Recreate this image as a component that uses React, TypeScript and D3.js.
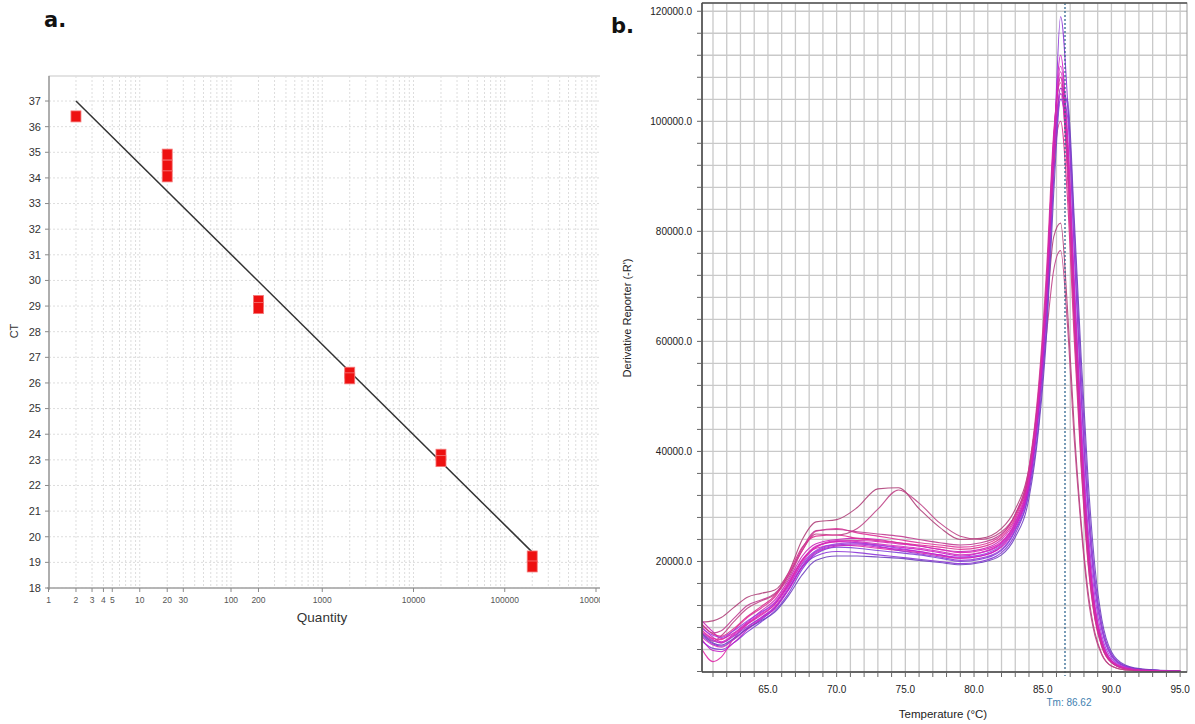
import * as d3 from 'd3';

// ---- panel a: standard curve ----
const quantities = [2, 20, 20, 20, 200, 200, 2000, 2000, 20000, 20000, 200000, 200000];
const ctValues = [36.4, 34.91, 34.48, 34.06, 29.2, 28.92, 26.4, 26.18, 23.2, 22.95, 19.23, 18.84];
const fitRange = [2, 200000];
const fitSlope = -3.52;
const fitIntercept = 38.06;
const quantityTicks = [1, 2, 3, 4, 5, 10, 20, 30, 100, 200, 1000, 10000, 100000, 1000000];
const ctTicks = d3.range(18, 38);

// ---- panel b: melt curves (values in thousands) ----
const temps = [60.2, 61, 61.6, 62.5, 63.5, 64.5, 65.5, 66.5, 67.5, 68.5, 70, 71.5, 73, 74.5, 76, 77.5, 79, 80.5, 82, 83, 84, 84.7, 85.3, 85.8, 86.3, 86.8, 87.3, 87.8, 88.3, 88.8, 89.3, 90, 91, 92.5, 95];
const meltCurves = [
  [6.5, 5.0, 4.6, 5.8, 7.8, 9.4, 11.5, 15.0, 19.0, 21.0, 21.8, 21.6, 21.2, 20.8, 20.4, 20.0, 19.6, 20.0, 21.6, 25.0, 33.0, 47.0, 67.0, 93.0, 119.0, 104.0, 76.0, 50.0, 29.0, 15.0, 7.5, 2.8, 0.9, 0.3, 0.1],
  [8.0, 6.2, 5.4, 6.8, 8.8, 10.6, 12.6, 16.2, 20.4, 22.6, 23.6, 23.4, 23.0, 22.6, 22.2, 21.6, 21.0, 21.6, 23.4, 27.0, 35.0, 49.0, 70.0, 96.0, 112.0, 97.0, 68.0, 43.0, 23.5, 11.5, 5.6, 2.0, 0.6, 0.2, 0.1],
  [9.0, 9.2, 9.8, 11.6, 13.5, 14.2, 14.8, 18.0, 24.0, 27.2, 27.6, 29.8, 33.2, 33.4, 29.6, 26.2, 24.0, 24.2, 26.0, 29.5, 37.0, 50.0, 66.0, 79.0, 81.5, 66.0, 44.0, 27.0, 14.5, 7.0, 3.2, 1.0, 0.3, 0.1, 0.1],
  [7.0, 5.5, 6.5, 9.0, 11.5, 12.8, 14.0, 17.0, 22.0, 25.0, 24.8, 26.0, 29.5, 33.0, 30.6, 27.0, 24.6, 24.0, 25.4, 28.5, 35.5, 48.0, 62.0, 73.0, 76.5, 63.0, 42.0, 26.0, 13.5, 6.5, 3.0, 1.0, 0.3, 0.1, 0.1],
  [7.5, 6.0, 5.8, 7.5, 9.8, 11.5, 13.5, 17.5, 22.0, 25.5, 26.0, 25.2, 24.6, 24.0, 23.4, 23.0, 22.6, 23.0, 24.8, 28.5, 37.0, 52.0, 74.0, 98.0, 107.0, 90.0, 62.0, 38.0, 20.0, 9.5, 4.5, 1.6, 0.5, 0.2, 0.1],
  [5.5, 4.2, 4.0, 5.2, 7.2, 9.0, 11.0, 14.2, 18.6, 21.4, 22.6, 22.4, 22.0, 21.6, 21.2, 20.6, 20.0, 20.4, 22.0, 25.6, 32.5, 45.0, 64.0, 90.0, 106.0, 103.0, 80.0, 54.0, 32.0, 17.0, 8.5, 3.2, 1.0, 0.3, 0.1],
  [9.2, 7.2, 6.0, 7.0, 9.0, 11.0, 13.0, 16.6, 21.0, 23.2, 24.0, 24.2, 24.0, 23.4, 22.8, 22.2, 21.8, 22.2, 24.0, 27.6, 35.5, 50.0, 71.0, 97.0, 109.0, 95.0, 66.0, 41.0, 22.0, 10.5, 5.0, 1.8, 0.6, 0.2, 0.1],
  [4.0, 1.8, 2.6, 6.0, 8.6, 10.4, 12.2, 16.0, 20.2, 22.4, 23.0, 22.8, 22.4, 22.0, 21.6, 21.0, 20.6, 21.0, 22.8, 26.4, 34.0, 48.0, 69.0, 94.0, 105.0, 92.0, 64.0, 40.0, 21.5, 10.5, 5.0, 1.8, 0.6, 0.2, 0.1],
  [7.8, 6.6, 6.2, 7.4, 9.2, 10.8, 12.4, 15.6, 19.6, 22.0, 23.2, 23.4, 23.0, 22.4, 21.8, 21.2, 20.8, 21.2, 23.0, 26.6, 34.5, 48.5, 68.0, 92.0, 104.0, 96.0, 71.0, 46.0, 26.0, 13.5, 6.5, 2.4, 0.8, 0.3, 0.1],
  [6.2, 4.8, 4.4, 5.8, 8.0, 9.8, 11.8, 15.4, 19.8, 22.6, 23.8, 23.6, 23.2, 22.8, 22.4, 21.8, 21.2, 21.6, 23.2, 26.8, 34.5, 49.0, 70.0, 96.0, 110.0, 98.0, 70.0, 44.5, 24.5, 12.0, 5.8, 2.0, 0.7, 0.2, 0.1],
  [7.0, 5.6, 5.2, 6.4, 8.2, 9.8, 11.6, 15.0, 19.2, 21.8, 23.0, 23.2, 22.8, 22.0, 21.4, 20.8, 20.2, 20.6, 22.2, 25.8, 33.5, 47.0, 66.0, 91.0, 105.0, 101.0, 77.0, 51.0, 30.0, 16.0, 8.0, 3.0, 1.0, 0.3, 0.1],
  [8.6, 6.8, 6.4, 7.8, 10.0, 11.8, 13.8, 17.8, 22.6, 24.6, 24.8, 24.2, 23.8, 23.4, 23.0, 22.6, 22.2, 22.6, 24.4, 28.0, 36.0, 50.0, 70.0, 92.0, 100.0, 86.0, 60.0, 37.0, 19.5, 9.5, 4.5, 1.6, 0.5, 0.2, 0.1],
  [5.8, 3.8, 3.6, 5.2, 7.6, 9.6, 11.4, 14.8, 19.0, 21.6, 22.8, 23.0, 22.6, 22.2, 21.8, 21.2, 20.6, 21.0, 22.6, 26.2, 34.0, 48.0, 68.0, 94.0, 106.0, 94.0, 67.0, 42.0, 23.0, 11.0, 5.2, 1.9, 0.6, 0.2, 0.1],
  [8.4, 7.0, 7.4, 9.6, 12.0, 13.0, 14.2, 17.4, 22.4, 25.6, 25.8, 25.4, 25.0, 24.6, 24.0, 23.4, 23.0, 23.4, 25.0, 28.6, 36.5, 51.0, 72.0, 96.0, 108.0, 93.0, 64.0, 39.0, 21.0, 10.0, 4.8, 1.7, 0.5, 0.2, 0.1],
  [6.8, 5.2, 4.8, 6.0, 7.8, 9.2, 10.8, 13.8, 17.6, 20.2, 21.0, 21.0, 20.8, 20.6, 20.2, 19.8, 19.4, 19.8, 21.2, 24.4, 31.5, 44.0, 62.0, 87.0, 104.0, 104.0, 82.0, 57.0, 35.0, 19.0, 9.5, 3.6, 1.2, 0.4, 0.1],
  [7.2, 5.8, 5.2, 6.6, 8.6, 10.2, 12.2, 15.8, 20.2, 22.8, 23.6, 23.8, 23.6, 23.2, 22.8, 22.2, 21.6, 22.0, 23.6, 27.2, 35.0, 49.5, 70.5, 96.5, 108.0, 96.0, 68.0, 42.5, 23.0, 11.0, 5.3, 1.9, 0.6, 0.2, 0.1],
];
const curveColors = ['#8c34d8', '#d21cc8', '#b0407a', '#c04588', '#e0309a', '#7f3fd8', '#cc22b8', '#e02aa8', '#a040e0', '#d030c0', '#9a3ad6', '#dc2c90', '#c81cc8', '#c03c90', '#7040c0', '#d825b5'];
const tmValue = 86.62;
const tempTicks = [65, 70, 75, 80, 85, 90, 95];
const reporterTicks = [20000, 40000, 60000, 80000, 100000, 120000];

const font = 'Liberation Sans, Arial, sans-serif';

function PanelA() {
  const x = d3.scaleLog().domain([1, 1e6]).range([48.5, 596]);
  const y = d3.scaleLinear().domain([18, 38]).range([588, 75.4]);
  const minor: number[] = [];
  for (let d = 0; d < 6; d++) for (let m = 1; m < 10; m++) minor.push(m * Math.pow(10, d));
  minor.push(1e6);
  const fitLine = d3.line<number>().x(q => x(q)).y(q => y(fitIntercept + fitSlope * Math.log10(q)));
  return (
    <g clipPath="url(#clipA)">
      <rect x={49} y={76} width={560} height={512} fill="#fff" stroke="#c8c8c8" />
      {ctTicks.map(t => (
        <line key={'h' + t} x1={49} x2={610} y1={y(t)} y2={y(t)} stroke="#dddddd" strokeDasharray="2,2" />
      ))}
      {minor.filter(v => v > 1).map(v => (
        <line key={'v' + v} x1={x(v)} x2={x(v)} y1={76} y2={588} stroke="#dddddd" strokeDasharray="2,2" />
      ))}
      <line x1={49} x2={49} y1={76} y2={590} stroke="#8a8a8a" strokeWidth={1.2} />
      <line x1={47} x2={610} y1={588} y2={588} stroke="#8a8a8a" strokeWidth={1.2} />
      {ctTicks.map(t => (
        <g key={'yt' + t}>
          <line x1={45} x2={49} y1={y(t)} y2={y(t)} stroke="#8a8a8a" />
          <text x={41} y={y(t)} dy="0.35em" textAnchor="end" fontSize={11} fill="#333" fontFamily={font}>{t}</text>
        </g>
      ))}
      {quantityTicks.map(t => (
        <g key={'xt' + t}>
          <line x1={x(t)} x2={x(t)} y1={588} y2={592} stroke="#8a8a8a" />
          <text x={x(t)} y={600} dy="0.35em" textAnchor="middle" fontSize={8.5} fill="#555" fontFamily={font}>{t}</text>
        </g>
      ))}
      <path d={fitLine(fitRange) || ''} stroke="#333" strokeWidth={1.5} fill="none" />
      {quantities.map((q, i) => (
        <rect key={'p' + i} x={x(q) - 5} y={y(ctValues[i]) - 5.5} width={10} height={11} fill="#ee1010" stroke="#f47a7a" strokeWidth={0.8} />
      ))}
      <text x={322} y={617} dy="0.35em" textAnchor="middle" fontSize={13.5} fill="#333" fontFamily={font}>Quantity</text>
      <text transform="translate(14,331) rotate(-90)" textAnchor="middle" dy="0.35em" fontSize={11} fill="#333" fontFamily={font}>CT</text>
    </g>
  );
}

function PanelB() {
  const x = d3.scaleLinear().domain([60.2, 95.5]).range([702, 1187]);
  const y = d3.scaleLinear().domain([0, 121500]).range([671.5, 3]);
  const vGrid = d3.range(61, 96);
  const hGrid = d3.range(4000, 121000, 4000);
  const line = d3.line<number>().x((_, i) => x(temps[i])).y(v => y(v * 1000)).curve(d3.curveMonotoneX);
  return (
    <g>
      <defs>
        <clipPath id="clipB"><rect x={702} y={3} width={485} height={669} /></clipPath>
      </defs>
      {vGrid.map(t => (
        <line key={'vg' + t} x1={x(t)} x2={x(t)} y1={3} y2={672} stroke="#c9c9c9" strokeWidth={1.3} />
      ))}
      {hGrid.map(v => (
        <line key={'hg' + v} x1={702} x2={1187} y1={y(v)} y2={y(v)} stroke="#c9c9c9" strokeWidth={1.3} />
      ))}
      <g clipPath="url(#clipB)">
        {meltCurves.map((c, i) => (
          <path key={'c' + i} d={line(c) || ''} fill="none" stroke={curveColors[i]} strokeWidth={1.1} strokeOpacity={0.9} />
        ))}
      </g>
      <line x1={x(tmValue)} x2={x(tmValue)} y1={3} y2={676} stroke="#2f6690" strokeWidth={1.3} strokeDasharray="2,2" />
      <rect x={702} y={3} width={485} height={669} fill="none" stroke="#999" strokeWidth={1} />
      <line x1={702} x2={1187} y1={3} y2={3} stroke="#555" strokeWidth={1.5} />
      <line x1={702} x2={702} y1={3} y2={672} stroke="#444" strokeWidth={1.5} />
      <line x1={702} x2={1187} y1={672} y2={672} stroke="#444" strokeWidth={1.5} />
      {hGrid.concat([0]).map(v => (
        <line key={'yt' + v} x1={697} x2={702} y1={y(v)} y2={y(v)} stroke="#666" />
      ))}
      {vGrid.map(t => (
        <line key={'xt' + t} x1={x(t)} x2={x(t)} y1={672} y2={677} stroke="#666" />
      ))}
      {reporterTicks.map(v => (
        <text key={'yl' + v} x={692} y={y(v)} dy="0.35em" textAnchor="end" fontSize={10} fill="#222" fontFamily={font}>{v.toFixed(1)}</text>
      ))}
      {tempTicks.map(t => (
        <text key={'xl' + t} x={x(t)} y={689} dy="0.35em" textAnchor="middle" fontSize={10} fill="#222" fontFamily={font}>{t.toFixed(1)}</text>
      ))}
      <text x={x(tmValue) + 4} y={702} dy="0.35em" textAnchor="middle" fontSize={10} fill="#3f7fb0" fontFamily={font}>Tm: {tmValue}</text>
      <text x={943} y={714} dy="0.35em" textAnchor="middle" fontSize={11.5} fill="#222" fontFamily={font}>Temperature (°C)</text>
      <text transform="translate(627,318) rotate(-90)" textAnchor="middle" dy="0.35em" fontSize={11} fill="#222" fontFamily={font}>Derivative Reporter (-R')</text>
    </g>
  );
}

export default function App() {
  return (
    <svg width={1195} height={724} style={{ position: 'absolute', left: 0, top: 0, background: '#fff' }}>
      <defs>
        <clipPath id="clipA"><rect x={0} y={0} width={600} height={724} /></clipPath>
      </defs>
      <rect width={1195} height={724} fill="#fff" />
      <text x={44} y={27} fontSize={21} fontWeight="bold" fill="#111" fontFamily="DejaVu Sans, sans-serif">a.</text>
      <text x={611} y={33} fontSize={21} fontWeight="bold" fill="#111" fontFamily="DejaVu Sans, sans-serif">b.</text>
      <PanelA />
      <PanelB />
    </svg>
  );
}
